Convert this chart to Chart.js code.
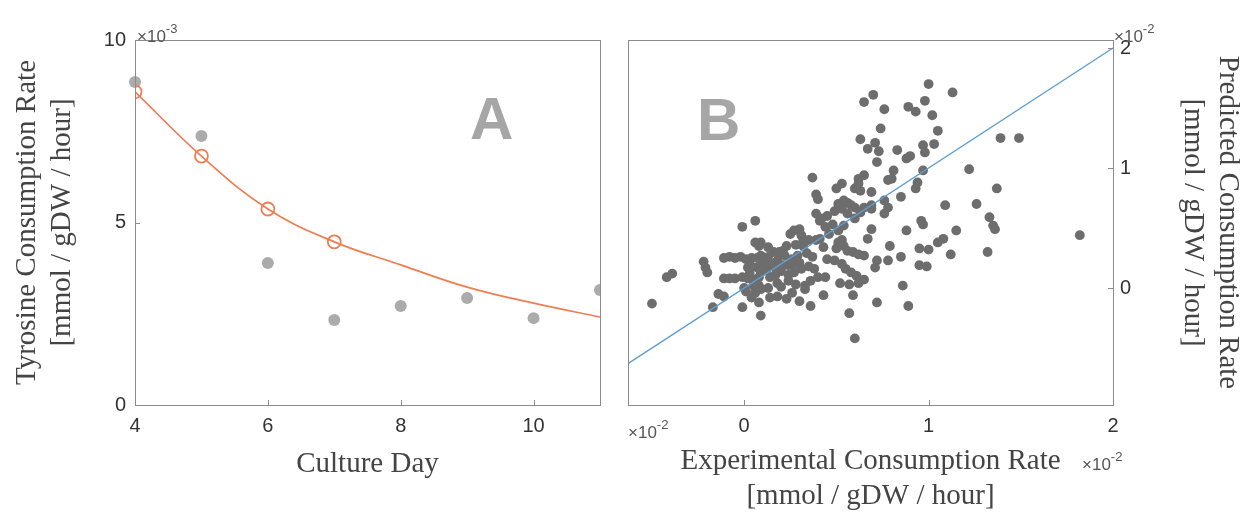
<!DOCTYPE html>
<html>
<head>
<meta charset="utf-8">
<script src="https://cdn.jsdelivr.net/npm/chart.js@4.4.1/dist/chart.umd.min.js"></script>
<style>
  body { margin:0; background:#fff; width:1252px; height:525px; position:relative; overflow:hidden;
         font-family:"Liberation Sans", Arial, sans-serif; }
  #wrapA { position:absolute; left:0; top:0; width:615px; height:525px; }
  #wrapB { position:absolute; left:615px; top:0; width:637px; height:525px; }
  .exp { position:absolute; font-size:17px; line-height:17px; color:#555; white-space:nowrap; }
  .exp sup { font-size:13px; position:relative; top:-2px; }
  .tag { position:absolute; font:bold 60px/60px "Liberation Sans", Arial, sans-serif; color:#a6a6a6; }
</style>
</head>
<body>
<div id="wrapA"><canvas id="chartA" width="615" height="525"></canvas></div>
<div id="wrapB"><canvas id="chartB" width="637" height="525"></canvas></div>

<div class="tag" style="left:470px;top:89px">A</div>
<div class="tag" style="left:697px;top:90px">B</div>

<div class="exp" style="left:137px;top:22px">×10<sup>-3</sup></div>
<div class="exp" style="left:1114px;top:22px">×10<sup>-2</sup></div>
<div class="exp" style="left:628px;top:418px">×10<sup>-2</sup></div>
<div class="exp" style="left:1082px;top:450px">×10<sup>-2</sup></div>

<script>
/* panel A - tyrosine rate by culture day (y in 1e-3) */
const DAYS        = [4, 5, 6, 7, 8, 9, 10, 11];
const MEASURED    = [8.85, 7.37, 3.89, 2.33, 2.71, 2.93, 2.38, 3.15];
const FIT_DAYS    = [4, 5, 6, 7];
const FIT_POINTS  = [8.58, 6.82, 5.37, 4.47];
const CURVE_DAYS  = [4, 5, 6, 7, 8, 9, 10, 11];
const CURVE_RATE  = [8.58, 6.82, 5.37, 4.47, 3.84, 3.23, 2.79, 2.41];
const DAY_TICKS   = [4, 6, 8, 10];
const RATE_TICKS  = [0, 5, 10];

/* panel B - experimental vs predicted (both in 1e-2) */
const EXP_RATE = [
  -0.50,-0.42,-0.39,-0.22,-0.21,-0.20,-0.17,-0.14,-0.11,-0.01,0.06,-0.01,0.09,0.36,0.37,0.39,0.40,0.50,0.53,0.57,0.60,
  0.65,0.70,0.76,0.74,0.63,0.67,0.71,0.73,0.72,0.83,0.88,0.90,0.89,0.93,1.00,0.98,1.02,1.05,1.03,0.97,0.98,0.97,1.13,
  1.39,1.49,1.22,1.37,1.26,1.33,1.35,1.36,1.82,1.32,1.15,1.09,1.05,1.08,1.12,0.96,0.97,0.95,1.00,0.95,0.99,0.88,0.89,
  0.86,0.79,0.78,0.85,0.72,0.72,0.76,0.78,0.85,0.76,0.94,0.93,0.81,0.78,0.80,0.62,0.65,0.60,0.63,0.69,0.62,0.51,0.56,
  0.60,0.69,
  0.25,0.27,0.30,0.31,0.41,0.42,0.45,0.49,0.53,0.56,0.60,0.63,0.69,0.51,0.54,0.56,0.59,0.62,0.65,0.67,0.69,0.45,0.49,
  0.53,0.55,0.58,0.61,0.65,0.71,0.52,0.57,0.62,0.43,0.59,
  0.09,0.13,0.16,0.11,0.15,0.18,0.22,0.26,0.29,0.20,0.24,0.27,0.31,0.35,0.38,0.18,0.24,0.28,0.33,0.36,0.40,0.18,0.26,
  0.33,0.44,0.08,0.08,
  -0.11,-0.08,-0.05,-0.02,0.01,0.04,0.07,-0.11,-0.08,-0.05,-0.01,0.02,0.05,0.06,0.08,0.04,0.07,0.05,0.06,0.04,0.09,0.09,
  0.09,0.08,
  0.39,0.41,0.44,0.48,0.51,0.54,0.54,0.58,0.65,0.46,0.39,0.43,0.50,0.53,0.35,0.32,0.21,0.12,0.14,0.17,0.21,0.30,0.34,
  0.37,0.13,0.20,0.00,0.01,0.14,0.23,0.30,
  0.02,0.03,0.10,0.17,0.24,0.27,0.13,0.19,0.23,0.28,0.32
];
const PRED_RATE = [
  -0.13,0.09,0.12,0.22,0.17,0.13,-0.16,-0.05,-0.07,0.51,0.56,-0.16,-0.23,-0.15,0.92,0.78,0.74,0.83,0.87,-0.21,-0.42,
  1.55,1.61,1.49,1.33,1.24,1.16,1.21,1.14,1.05,1.15,1.08,1.10,1.51,1.47,1.70,1.56,1.44,1.31,1.20,1.19,1.13,0.98,1.63,
  1.25,1.25,0.99,0.83,0.70,0.59,0.52,0.49,0.44,0.30,0.48,0.69,0.38,0.41,0.28,0.56,0.53,0.33,0.32,0.19,0.18,0.48,-0.15,
  0.02,0.35,0.23,0.26,-0.12,0.23,0.62,0.67,0.76,0.73,0.88,0.83,0.98,0.90,0.91,0.91,0.94,0.83,0.81,0.80,0.87,0.70,0.71,
  0.67,0.69,
  0.45,0.48,0.49,0.44,0.41,0.58,0.60,0.64,0.66,0.62,0.58,0.63,0.66,0.38,0.35,0.31,0.30,0.28,0.27,0.41,0.49,0.24,0.23,
  0.20,0.16,0.13,0.10,0.07,0.17,0.04,0.03,0.04,-0.06,-0.06,
  0.38,0.34,0.30,0.24,0.20,0.23,0.27,0.24,0.27,0.14,0.11,0.13,0.16,0.18,0.16,0.04,0.06,0.03,0.02,0.06,0.09,-0.07,-0.04,
  -0.01,0.09,0.09,0.02,
  0.25,0.26,0.25,0.26,0.24,0.25,0.25,0.08,0.08,0.08,0.09,0.08,0.07,0.38,0.35,0.18,0.17,0.02,-0.04,-0.08,0.27,0.13,
  -0.01,-0.12,
  0.62,0.56,0.51,0.53,0.48,0.52,0.73,0.69,0.67,0.45,0.40,0.34,0.33,0.40,0.40,0.35,0.31,0.15,0.09,0.11,0.19,0.21,0.29,
  0.26,0.00,0.01,0.00,-0.03,-0.08,-0.09,-0.11,
  0.17,0.12,0.20,0.17,0.19,0.20,0.26,0.30,0.35,0.36,0.40
];
const IDENTITY_X = [-0.63, 2.0];
const IDENTITY_Y = [-0.63, 2.0];
const EXP_TICKS  = [0, 1, 2];
const PRED_TICKS = [0, 1, 2];

const SANS  = '"Liberation Sans", Arial, sans-serif';
const SERIF = '"Liberation Serif", "Times New Roman", serif';
const TICK_FONT  = { family: SANS, size: 20 };
const TITLE_FONT = { family: SERIF, size: 29, lineHeight: 1.2 };

// matlab-ish box with inward tick marks
const boxPlugin = {
  id: 'box',
  afterDatasetsDraw(chart) {
    const { ctx, chartArea: a } = chart;
    ctx.save();
    ctx.strokeStyle = '#8c8c8c';
    ctx.lineWidth = 1;
    ctx.strokeRect(Math.round(a.left) + 0.5, Math.round(a.top) + 0.5,
                   Math.round(a.right - a.left), Math.round(a.bottom - a.top));
    ctx.beginPath();
    Object.values(chart.scales).forEach(s => {
      s.ticks.forEach(t => {
        const p = Math.round(s.getPixelForValue(t.value)) + 0.5;
        if (s.position === 'bottom') { ctx.moveTo(p, a.bottom); ctx.lineTo(p, a.bottom - 5); }
        else if (s.position === 'left') { ctx.moveTo(a.left, p); ctx.lineTo(a.left + 5, p); }
        else if (s.position === 'right') { ctx.moveTo(a.right, p); ctx.lineTo(a.right - 5, p); }
      });
    });
    ctx.stroke();
    ctx.restore();
  }
};

const fixTicks = arr => s => { s.ticks = arr.map(v => ({ value: v })); };

function axis(extra) {
  return Object.assign({
    type: 'linear',
    grid: { display: false, drawTicks: false },
    border: { display: false },
    ticks: { font: TICK_FONT, color: '#333', padding: 9 },
  }, extra);
}

new Chart(document.getElementById('chartA'), {
  type: 'scatter',
  data: {
    datasets: [
      { label: 'fit points', data: FIT_DAYS.map((d, i) => ({ x: d, y: FIT_POINTS[i] })),
        pointRadius: 6.5, pointBorderWidth: 1.8, pointBorderColor: '#f07c52',
        pointBackgroundColor: 'rgba(0,0,0,0)', showLine: false },
      { label: 'fit', data: CURVE_DAYS.map((d, i) => ({ x: d, y: CURVE_RATE[i] })),
        showLine: true, pointRadius: 0, borderColor: '#f07c52', borderWidth: 1.7,
        tension: 0.4 },
      { label: 'measured', data: DAYS.map((d, i) => ({ x: d, y: MEASURED[i] })),
        pointRadius: 6, pointBorderWidth: 0, pointBackgroundColor: '#ababab',
        clip: { left: 8, top: 8, right: 0, bottom: 8 } },
    ]
  },
  options: {
    responsive: false, animation: false,
    layout: { padding: { left: 0, right: 15, top: 40, bottom: 0 } },
    plugins: { legend: { display: false }, tooltip: { enabled: false } },
    scales: {
      x: axis({ min: 4, max: 11, afterBuildTicks: fixTicks(DAY_TICKS),
        afterFit: s => { s.height = 120; },
        title: { display: true, text: 'Culture Day', font: TITLE_FONT, color: '#444',
                 padding: { top: 0, bottom: 43 } } }),
      y: axis({ min: 0, max: 10, afterBuildTicks: fixTicks(RATE_TICKS),
        afterFit: s => { s.width = 135; },
        title: { display: true, text: ['Tyrosine Consumption Rate', '[mmol / gDW / hour]'],
                 font: TITLE_FONT, color: '#444', padding: { top: 10, bottom: 0 } } }),
    }
  },
  plugins: [boxPlugin]
});

new Chart(document.getElementById('chartB'), {
  type: 'scatter',
  data: {
    datasets: [
      { label: 'y = x', data: IDENTITY_X.map((v, i) => ({ x: v, y: IDENTITY_Y[i] })),
        showLine: true, pointRadius: 0, borderColor: '#5d9fd3', borderWidth: 1.3 },
      { label: 'reactions', data: EXP_RATE.map((v, i) => ({ x: v, y: PRED_RATE[i] })),
        pointRadius: 4.9, pointBorderWidth: 0, pointBackgroundColor: '#6d6d6d' },
    ]
  },
  options: {
    responsive: false, animation: false,
    layout: { padding: { left: 13, right: 0, top: 40, bottom: 0 } },
    plugins: { legend: { display: false }, tooltip: { enabled: false } },
    scales: {
      x: axis({ min: -0.63, max: 2.0, afterBuildTicks: fixTicks(EXP_TICKS),
        afterFit: s => { s.height = 120; },
        title: { display: true, text: ['Experimental Consumption Rate', '[mmol / gDW / hour]'],
                 font: TITLE_FONT, color: '#444', padding: { top: 0, bottom: 11 } } }),
      y: axis({ position: 'right', min: -0.975, max: 2.067, afterBuildTicks: fixTicks(PRED_TICKS),
        afterFit: s => { s.width = 139; },
        ticks: { font: TICK_FONT, color: '#333', padding: 7 },
        title: { display: true, text: ['Predicted Consumption Rate', '[mmol / gDW / hour]'],
                 font: TITLE_FONT, color: '#444', padding: { top: 7, bottom: 0 } } }),
    }
  },
  plugins: [boxPlugin]
});
</script>
</body>
</html>
